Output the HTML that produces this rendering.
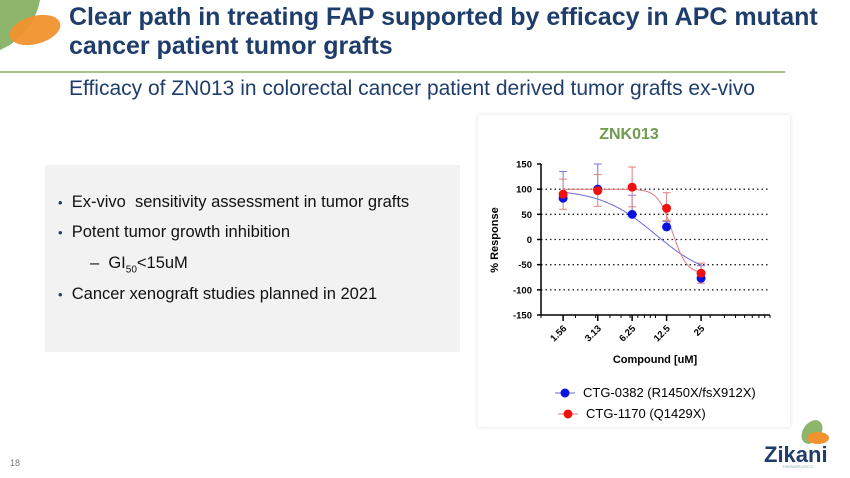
<!DOCTYPE html>
<html><head><meta charset="utf-8"><style>
body{margin:0;width:850px;height:478px;overflow:hidden;background:#fff;font-family:"Liberation Sans",Arial,sans-serif;position:relative}
.abs{position:absolute}
</style></head><body>
<svg class="abs" style="left:0;top:0" width="70" height="55">
<path d="M0 0 L40 0 Q36 25 10 45 L0 50 Z" fill="#8db56c"/>
<ellipse cx="35" cy="30" rx="26" ry="14" transform="rotate(-15 35 30)" fill="#f0922e" opacity="0.95"/>
</svg>
<div class="abs" style="left:69px;top:3px;font-size:25px;font-weight:bold;color:#1f3d6b;line-height:29px;white-space:nowrap">Clear path in treating FAP supported by efficacy in APC mutant<br>cancer patient tumor grafts</div>
<div class="abs" style="left:0;top:71px;width:785px;height:2px;background:#a9c089"></div>
<div class="abs" style="left:69px;top:77px;font-size:21px;color:#1f3d6b;white-space:nowrap">Efficacy of ZN013 in colorectal cancer patient derived tumor grafts ex-vivo</div>
<div class="abs" style="left:45px;top:165px;width:415px;height:187px;background:#f2f2f2;font-size:16.5px;color:#111;white-space:nowrap">
<div style="position:absolute;left:13px;top:28px"><span style="color:#1f3d6b;font-size:13px">•</span>&nbsp;&nbsp;Ex-vivo&nbsp; sensitivity assessment in tumor grafts</div>
<div style="position:absolute;left:13px;top:58px"><span style="color:#1f3d6b;font-size:13px">•</span>&nbsp;&nbsp;Potent tumor growth inhibition</div>
<div style="position:absolute;left:45px;top:89px">–&nbsp; GI<sub style="font-size:10px">50</sub>&lt;15uM</div>
<div style="position:absolute;left:13px;top:120px"><span style="color:#1f3d6b;font-size:13px">•</span>&nbsp;&nbsp;Cancer xenograft studies planned in 2021</div>
</div>
<div class="abs" style="left:478px;top:115px;width:312px;height:312px;background:#fff;box-shadow:0 0 4px #ddd"></div>
<svg id="chart" class="abs" style="left:0;top:0" width="850" height="478"></svg>
<div class="abs" style="left:10px;top:458px;font-size:9px;color:#777">18</div>
<svg class="abs" style="left:760px;top:410px" width="85" height="60">
<ellipse cx="52" cy="22" rx="9" ry="13" transform="rotate(35 52 22)" fill="#8db56c"/>
<ellipse cx="58" cy="28" rx="11" ry="6" fill="#f0922e"/>
<text x="4" y="52" font-size="22" font-weight="bold" fill="#1f3d6b" font-family="Liberation Sans">Zikani</text>
<text x="22" y="58" font-size="4" fill="#8aa" font-family="Liberation Sans">THERAPEUTICS</text>
</svg>
<script>
const doses=[1.56,3.13,6.25,12.5,25];
const tickLabels=["1.56","3.13","6.25","12.5","25"];
const yTicks=[150,100,50,0,-50,-100,-150];
const blueVals=[82,100,50,25,-77];
const blueErrHi=[135,150,88,36,-52];
const blueErrLo=[82,100,50,25,-77];
const redVals=[90,97,104,62,-67];
const redErrHi=[120,129,144,93,-47];
const redErrLo=[60,66,65,38,-87];
const blueFit=[100,-80,10,1.8]; // top,bottom,ic50,hill
const redFit=[100,-68,14,7];
const svg=document.getElementById('chart');const NS='http://www.w3.org/2000/svg';
const X0=541,X1=770,Y0=315,Y1=164;
const x=v=>X0+Math.log2(v/1)/Math.log2(100)*(X1-X0);
const y=v=>Y0-(v+150)/300*(Y0-Y1);
function el(t,a,name,txt){const e=document.createElementNS(NS,t);for(const k in a)e.setAttribute(k,a[k]);


if(txt!==undefined)e.textContent=txt;svg.appendChild(e);return e;}
el('text',{x:629,y:139,'font-size':16,'font-weight':'bold',fill:'#6f9a4f','text-anchor':'middle'},'chart-title','ZNK013');
yTicks.forEach(t=>{
 if(t>-150&&t<150)el('line',{x1:X0,x2:X1,y1:y(t),y2:y(t),stroke:'#222','stroke-width':1.3,'stroke-dasharray':'1.5 3'},'gridline');
 el('line',{x1:X0-4,x2:X0,y1:y(t),y2:y(t),stroke:'#000','stroke-width':1.5},'y-tick');
 el('text',{x:X0-9,y:y(t)+3.5,'font-size':9.5,'font-weight':'bold','text-anchor':'end'},'y-tick-label',String(t));
});
el('line',{x1:X0,x2:X0,y1:Y1,y2:Y0,stroke:'#000','stroke-width':1.5},'y-axis');
el('line',{x1:X0,x2:X1,y1:Y0,y2:Y0,stroke:'#000','stroke-width':1.5},'x-axis');
for(let d=1;d<=10;d++)for(const b of [1,10]){const v=d*b;if(v>=1&&v<=100){el('line',{x1:x(v),x2:x(v),y1:Y0,y2:Y0+3,stroke:'#000','stroke-width':1},'x-minor-tick');}}
doses.forEach((d,i)=>{el('line',{x1:x(d),x2:x(d),y1:Y0,y2:Y0+6,stroke:'#000','stroke-width':1.5},'x-tick');
 el('text',{x:x(d)+4,y:Y0+14,'font-size':9.5,'font-weight':'bold','text-anchor':'end',transform:`rotate(-45 ${x(d)+4} ${Y0+14})`},'x-tick-label',tickLabels[i]);});
el('text',{x:655,y:363,'font-size':11,'font-weight':'bold','text-anchor':'middle'},'x-axis-title','Compound [uM]');
el('text',{x:498,y:240,'font-size':11,'font-weight':'bold','text-anchor':'middle',transform:'rotate(-90 498 240)'},'y-axis-title','% Response');
function curve(p,col,name){let s='';for(let i=0;i<=120;i++){const v=1.56*Math.pow(25/1.56,i/120);const r=p[1]+(p[0]-p[1])/(1+Math.pow(v/p[2],p[3]));s+=(i?'L':'M')+x(v).toFixed(1)+' '+y(r).toFixed(1);}
 el('path',{d:s,fill:'none',stroke:col,'stroke-width':1},name);}
function errs(vals,hi,lo,col,name){vals.forEach((v,i)=>{const cx=x(doses[i]);
 el('line',{x1:cx,x2:cx,y1:y(hi[i]),y2:y(lo[i]),stroke:col,'stroke-width':1},name);
 [hi[i],lo[i]].forEach(e=>{if(e!==v)el('line',{x1:cx-4,x2:cx+4,y1:y(e),y2:y(e),stroke:col,'stroke-width':1},name+'-cap');});});}
errs(blueVals,blueErrHi,blueErrLo,'#7878d8','blue-error-bar');
errs(redVals,redErrHi,redErrLo,'#e08080','red-error-bar');
curve(blueFit,'#6a6ad8','blue-fit-curve');curve(redFit,'#e07a7a','red-fit-curve');
blueVals.forEach((v,i)=>el('circle',{cx:x(doses[i]),cy:y(v),r:4.5,fill:'#0a14e0'},'blue-point'));
redVals.forEach((v,i)=>el('circle',{cx:x(doses[i]),cy:y(v),r:4.5,fill:'#f01010'},'red-point'));
el('line',{x1:555,x2:575,y1:393,y2:393,stroke:'#6a6ad8'},'legend-blue-line');
el('circle',{cx:565,cy:393,r:4.5,fill:'#0a14e0'},'legend-blue-marker');
el('text',{x:583,y:397,'font-size':13},'legend-blue-label','CTG-0382 (R1450X/fsX912X)');
el('line',{x1:558,x2:578,y1:414,y2:414,stroke:'#e07a7a'},'legend-red-line');
el('circle',{cx:568,cy:414,r:4.5,fill:'#f01010'},'legend-red-marker');
el('text',{x:586,y:418,'font-size':13},'legend-red-label','CTG-1170 (Q1429X)');
</script>
</body></html>
